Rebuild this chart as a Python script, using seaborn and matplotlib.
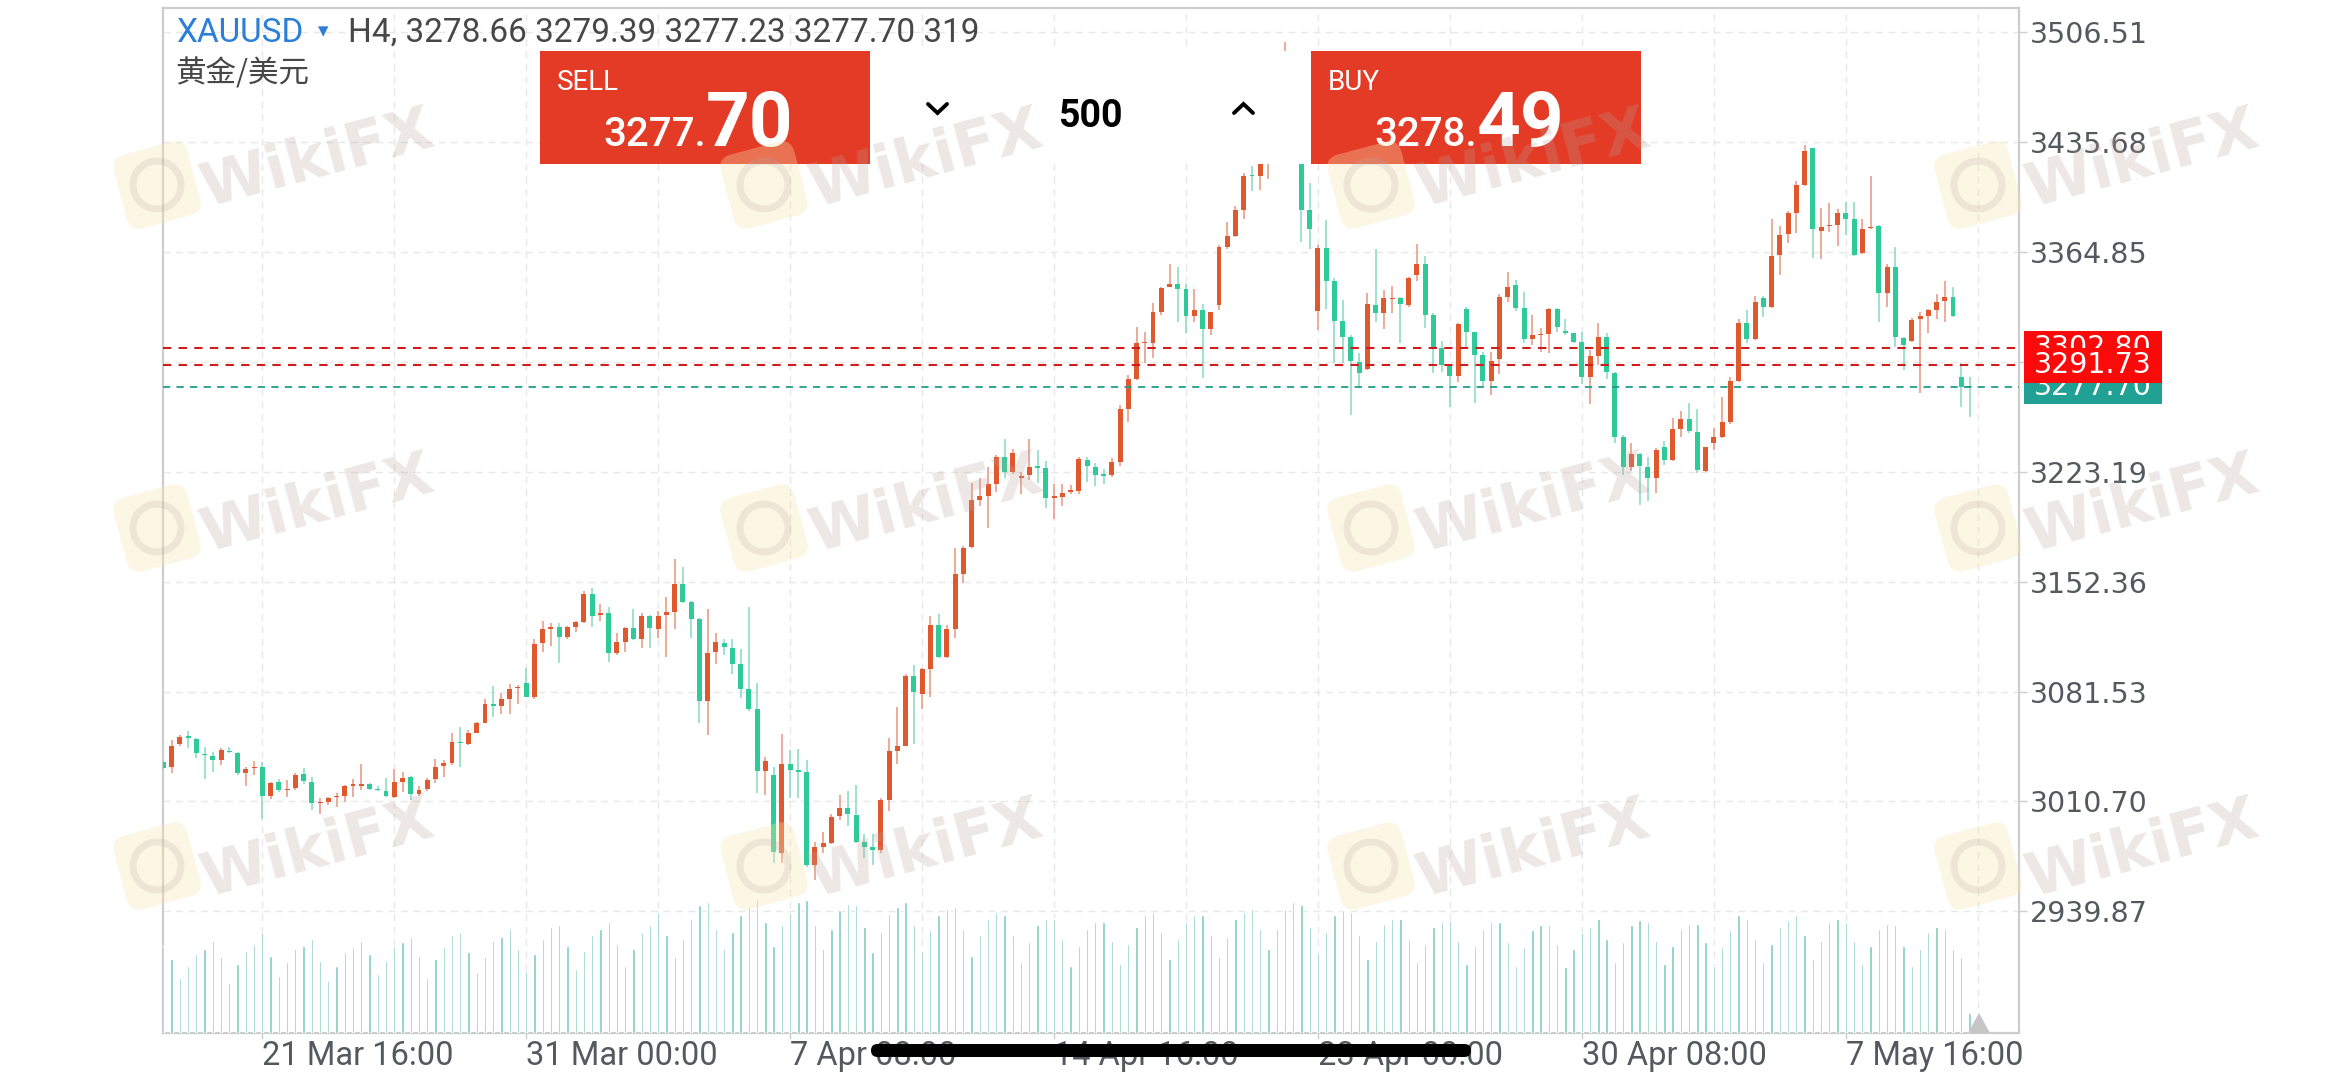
import matplotlib
matplotlib.use("Agg")
import matplotlib.pyplot as plt
import matplotlib.transforms as mtransforms
from matplotlib.patches import Rectangle, FancyBboxPatch, Polygon, Circle
from matplotlib.lines import Line2D
import numpy as np
import pandas as pd
import seaborn as sns

sns.set_theme(style="white")
plt.rcParams['font.family'] = ['Roboto', 'DejaVu Sans', 'Noto Sans CJK SC']

W, H = 2341, 1080

# ---------------- data ----------------
symbol = "XAUUSD"
symbol_cn = "黄金/美元"
timeframe = "H4"
last_ohlc = ["3278.66", "3279.39", "3277.23", "3277.70"]
last_volume = "319"
sell_price = ["3277.", "70"]
buy_price = ["3278.", "49"]
lot_size = "500"

opens = [
    3036.4, 3033.1, 3047.7, 3052.5, 3051.2, 3041.3, 3040.0, 3037.4, 3043.4, 3042.2,
    3029.3, 3032.1, 3033.1, 3014.2, 3023.3, 3018.1, 3019.2, 3028.2, 3023.0, 3009.5,
    3010.4, 3013.4, 3014.2, 3020.9, 3020.9, 3022.2, 3018.7, 3017.2, 3013.8, 3023.5,
    3026.5, 3015.3, 3018.5, 3025.4, 3033.3, 3035.7, 3049.2, 3047.7, 3055.0, 3061.5,
    3073.3, 3072.4, 3076.5, 3083.6, 3087.3, 3078.2, 3112.6, 3122.1, 3122.9, 3116.9,
    3122.9, 3126.6, 3144.2, 3130.9, 3132.4, 3106.2, 3113.5, 3122.3, 3115.4, 3130.2,
    3121.8, 3130.9, 3132.6, 3150.8, 3139.5, 3128.3, 3075.7, 3106.8, 3112.6, 3109.8,
    3099.3, 3083.2, 3070.1, 3030.6, 3027.8, 2977.7, 3034.9, 3031.2, 3029.7, 2969.7,
    2981.1, 2984.1, 3001.2, 3006.3, 3001.8, 2984.7, 2981.1, 2979.6, 3011.7, 3043.2,
    3046.2, 3091.3, 3079.9, 3095.8, 3124.3, 3103.9, 3121.9, 3157.3, 3174.7, 3204.7,
    3207.7, 3215.0, 3232.4, 3222.8, 3219.0, 3221.0, 3227.0, 3225.5, 3206.0, 3206.9,
    3209.9, 3210.8, 3230.9, 3226.4, 3222.0, 3221.0, 3229.6, 3263.4, 3282.7, 3305.9,
    3306.4, 3326.3, 3342.4, 3343.9, 3340.7, 3323.5, 3327.4, 3315.2, 3330.6, 3367.8,
    3375.3, 3391.8, 3414.4, 3414.0, 3428.0, 3442.0, 3471.0, 3480.0, 3440.0, 3391.8,
    3327.0, 3367.1, 3346.1, 3320.5, 3309.8, 3293.7, 3289.2, 3330.6, 3325.7, 3334.5,
    3334.9, 3330.6, 3349.9, 3356.8, 3324.2, 3303.1, 3291.5, 3284.9, 3327.8, 3313.0,
    3298.4, 3281.9, 3295.6, 3336.0, 3343.5, 3328.5, 3308.5, 3311.3, 3311.9, 3327.8,
    3313.9, 3312.4, 3307.0, 3284.0, 3297.8, 3309.8, 3286.6, 3245.4, 3226.0, 3234.4,
    3226.0, 3218.9, 3238.9, 3230.7, 3250.5, 3256.9, 3249.0, 3223.9, 3241.9, 3245.7,
    3255.4, 3281.6, 3318.8, 3308.5, 3335.3, 3329.1, 3362.8, 3376.3, 3390.1, 3407.9,
    3431.5, 3378.5, 3381.5, 3382.1, 3390.1, 3386.0, 3363.9, 3380.0, 3381.5, 3338.5,
    3355.3, 3309.1, 3307.6, 3321.3, 3323.5, 3327.4, 3333.4, 3336.0, 3284.4, 3278.7,
]
highs = [
    3037.4, 3050.3, 3053.5, 3056.3, 3051.6, 3045.6, 3042.6, 3045.0, 3046.0, 3042.8,
    3033.1, 3037.0, 3036.4, 3023.5, 3025.0, 3024.5, 3028.8, 3032.1, 3026.7, 3012.7,
    3013.8, 3015.9, 3021.3, 3025.0, 3034.9, 3022.8, 3020.7, 3025.8, 3031.4, 3029.5,
    3027.1, 3020.7, 3025.6, 3037.9, 3037.4, 3054.6, 3058.9, 3056.8, 3062.1, 3076.5,
    3085.1, 3080.4, 3086.2, 3085.8, 3096.5, 3115.2, 3127.2, 3125.5, 3125.9, 3123.8,
    3127.2, 3146.5, 3148.1, 3138.0, 3136.2, 3119.5, 3122.9, 3134.5, 3132.4, 3130.9,
    3133.7, 3142.3, 3167.0, 3162.0, 3139.9, 3128.7, 3134.5, 3119.0, 3115.6, 3115.2,
    3108.7, 3135.8, 3086.8, 3039.6, 3032.7, 3054.2, 3043.9, 3044.8, 3037.2, 2984.7,
    2990.7, 3002.7, 3014.7, 3017.7, 3021.6, 2989.8, 2989.8, 3013.2, 3051.6, 3071.8,
    3092.8, 3098.8, 3096.7, 3130.3, 3131.2, 3124.3, 3173.8, 3175.3, 3215.9, 3218.9,
    3226.4, 3233.9, 3244.4, 3237.8, 3222.8, 3244.4, 3236.9, 3230.0, 3215.0, 3215.0,
    3214.4, 3232.4, 3232.4, 3228.8, 3225.0, 3231.8, 3266.2, 3285.5, 3316.7, 3313.4,
    3332.1, 3342.4, 3357.0, 3355.3, 3344.2, 3340.7, 3331.3, 3326.3, 3369.3, 3384.3,
    3394.4, 3415.5, 3420.4, 3431.0, 3447.0, 3478.0, 3500.1, 3486.0, 3444.0, 3409.5,
    3369.3, 3385.4, 3347.8, 3333.8, 3311.3, 3299.9, 3338.2, 3366.7, 3340.3, 3342.9,
    3336.0, 3348.9, 3369.7, 3362.2, 3325.7, 3307.6, 3291.9, 3318.8, 3329.5, 3313.4,
    3300.6, 3300.6, 3337.7, 3352.1, 3346.7, 3339.2, 3324.2, 3315.6, 3328.5, 3328.5,
    3321.4, 3312.8, 3313.4, 3301.6, 3318.8, 3312.4, 3287.7, 3246.8, 3241.9, 3235.0,
    3232.5, 3238.3, 3243.2, 3257.6, 3262.5, 3267.7, 3263.4, 3239.3, 3251.1, 3271.5,
    3284.0, 3321.3, 3327.4, 3336.4, 3336.4, 3385.8, 3381.5, 3391.4, 3410.7, 3433.7,
    3432.0, 3392.9, 3396.5, 3392.2, 3397.2, 3397.2, 3385.8, 3413.7, 3382.1, 3357.0,
    3368.2, 3310.2, 3322.0, 3326.3, 3327.8, 3337.7, 3346.3, 3342.4, 3293.0, 3284.4,
]
lows = [
    3031.0, 3028.8, 3046.5, 3045.0, 3038.5, 3025.2, 3029.5, 3034.2, 3041.7, 3027.8,
    3020.9, 3027.8, 2999.2, 3012.1, 3017.0, 3013.4, 3018.1, 3021.9, 3005.2, 3002.6,
    3008.4, 3007.4, 3010.6, 3013.4, 3018.1, 3018.1, 3017.7, 3013.8, 3012.7, 3017.0,
    3011.7, 3014.4, 3017.7, 3022.8, 3026.3, 3034.2, 3032.7, 3047.1, 3054.6, 3061.0,
    3065.4, 3067.1, 3067.1, 3073.5, 3077.8, 3076.5, 3107.2, 3110.9, 3099.7, 3115.2,
    3120.1, 3125.9, 3123.4, 3127.2, 3100.8, 3105.1, 3107.2, 3114.8, 3109.4, 3109.4,
    3116.3, 3104.0, 3121.6, 3138.4, 3115.8, 3061.5, 3053.5, 3099.3, 3105.1, 3092.8,
    3077.6, 3069.2, 3015.9, 3014.9, 2970.8, 2971.3, 3012.7, 3013.2, 2968.2, 2959.8,
    2977.2, 2983.2, 2998.8, 2995.2, 2983.8, 2974.2, 2969.7, 2977.2, 3004.8, 3034.8,
    3046.2, 3047.7, 3070.3, 3077.8, 3103.3, 3103.3, 3115.9, 3151.3, 3173.8, 3200.8,
    3186.7, 3209.9, 3218.9, 3221.9, 3209.0, 3218.0, 3215.9, 3199.9, 3192.7, 3200.8,
    3209.0, 3209.0, 3216.8, 3213.8, 3215.0, 3220.0, 3227.0, 3255.4, 3282.3, 3293.0,
    3296.3, 3324.2, 3342.4, 3319.9, 3312.4, 3319.9, 3283.4, 3311.3, 3327.4, 3366.5,
    3374.7, 3385.8, 3404.3, 3404.7, 3411.6, 3436.0, 3458.0, 3432.0, 3371.4, 3366.5,
    3314.5, 3328.1, 3293.0, 3293.0, 3259.7, 3276.9, 3288.7, 3319.9, 3315.0, 3325.3,
    3305.9, 3329.1, 3346.1, 3315.6, 3286.6, 3287.7, 3264.7, 3281.2, 3303.8, 3267.7,
    3276.9, 3272.6, 3286.2, 3332.8, 3327.0, 3305.9, 3304.9, 3300.6, 3299.5, 3313.4,
    3311.3, 3305.9, 3279.7, 3266.8, 3291.9, 3282.7, 3241.5, 3221.1, 3223.9, 3201.7,
    3204.5, 3209.3, 3227.5, 3230.3, 3245.8, 3247.9, 3222.6, 3223.2, 3237.2, 3244.7,
    3253.9, 3281.2, 3305.9, 3308.0, 3322.6, 3328.4, 3349.9, 3370.8, 3377.2, 3407.3,
    3360.7, 3360.0, 3377.8, 3368.6, 3375.7, 3362.0, 3363.4, 3379.3, 3319.8, 3329.5,
    3303.7, 3288.7, 3307.0, 3274.1, 3312.3, 3321.3, 3319.8, 3323.1, 3265.1, 3258.6,
]
closes = [
    3032.1, 3046.5, 3052.5, 3051.8, 3041.7, 3040.7, 3037.4, 3043.9, 3042.4, 3029.3,
    3031.8, 3033.1, 3014.2, 3022.4, 3018.1, 3018.9, 3028.0, 3024.1, 3009.5, 3010.4,
    3012.9, 3014.2, 3020.5, 3021.8, 3022.2, 3018.9, 3017.9, 3014.2, 3023.0, 3025.8,
    3015.3, 3018.1, 3024.8, 3032.7, 3035.7, 3049.2, 3048.4, 3055.0, 3061.5, 3073.5,
    3072.4, 3076.7, 3083.2, 3084.5, 3078.2, 3112.2, 3121.6, 3123.1, 3116.9, 3122.9,
    3126.6, 3144.2, 3130.2, 3132.4, 3106.2, 3113.5, 3122.3, 3115.4, 3130.2, 3122.3,
    3130.2, 3133.0, 3150.8, 3139.5, 3128.3, 3075.7, 3106.6, 3113.3, 3110.0, 3099.3,
    3083.2, 3070.1, 3030.6, 3037.0, 2978.4, 3034.9, 3031.0, 3030.0, 2969.7, 2981.1,
    2984.1, 3000.6, 3006.3, 3002.7, 2984.7, 2981.1, 2979.6, 3011.7, 3043.2, 3046.2,
    3091.3, 3081.4, 3095.8, 3124.3, 3103.9, 3121.9, 3157.3, 3173.8, 3204.7, 3207.7,
    3215.0, 3232.4, 3222.8, 3235.4, 3220.4, 3226.4, 3225.8, 3206.0, 3207.5, 3209.6,
    3211.4, 3231.5, 3227.0, 3221.0, 3220.5, 3229.6, 3263.4, 3282.7, 3306.4, 3306.8,
    3326.3, 3341.4, 3343.9, 3340.9, 3323.5, 3327.4, 3315.2, 3325.9, 3368.2, 3375.3,
    3391.8, 3414.0, 3413.6, 3428.0, 3442.0, 3471.0, 3480.0, 3440.0, 3391.8, 3379.6,
    3367.1, 3346.1, 3320.5, 3309.8, 3294.8, 3287.0, 3331.3, 3325.7, 3334.9, 3335.4,
    3331.3, 3347.8, 3356.8, 3324.2, 3303.1, 3291.9, 3284.9, 3318.2, 3313.0, 3298.4,
    3281.9, 3294.8, 3335.6, 3342.4, 3328.5, 3308.5, 3311.3, 3311.9, 3327.8, 3316.2,
    3312.8, 3307.0, 3284.0, 3297.8, 3309.8, 3287.7, 3245.8, 3226.0, 3234.4, 3226.9,
    3218.9, 3237.2, 3230.7, 3250.5, 3256.9, 3249.6, 3224.3, 3238.9, 3245.4, 3255.4,
    3281.6, 3318.8, 3308.5, 3332.7, 3329.1, 3362.2, 3375.7, 3390.1, 3407.9, 3430.0,
    3379.3, 3381.1, 3382.1, 3390.1, 3386.0, 3362.8, 3379.3, 3381.1, 3338.5, 3355.3,
    3309.8, 3304.8, 3320.9, 3323.5, 3327.4, 3332.7, 3336.0, 3323.5, 3278.0, 3277.7,
]
# tick volume (thousands)
volumes = [
    52, 44, 33, 40, 47, 50, 55, 45, 30, 41, 49, 53, 60, 46, 34, 42, 50, 52,
    56, 43, 31, 40, 48, 51, 55, 47, 35, 43, 52, 54, 57, 46, 33, 44, 51, 58,
    60, 48, 36, 45, 55, 57, 62, 50, 37, 47, 56, 63, 64, 52, 38, 49, 58, 62,
    66, 53, 40, 50, 60, 64, 72, 58, 45, 56, 68, 76, 78, 62, 50, 60, 70, 75,
    80, 66, 52, 64, 72, 78, 79, 64, 50, 62, 73, 77, 76, 63, 48, 60, 71, 75,
    78, 64, 49, 61, 70, 74, 75, 62, 46, 58, 68, 72, 70, 58, 42, 54, 64, 68,
    68, 56, 40, 52, 62, 66, 66, 55, 41, 53, 63, 70, 72, 60, 44, 56, 66, 70,
    70, 58, 45, 57, 68, 72, 74, 62, 50, 62, 74, 78, 76, 63, 48, 60, 70, 73,
    72, 58, 44, 55, 65, 68, 68, 56, 42, 53, 63, 66, 67, 55, 41, 52, 62, 66,
    66, 54, 40, 51, 61, 64, 64, 53, 39, 50, 60, 63, 68, 56, 42, 54, 64, 67,
    66, 55, 41, 52, 62, 65, 65, 54, 40, 51, 61, 70, 68, 56, 42, 53, 63, 67,
    70, 58, 44, 55, 66, 68, 66, 55, 41, 52, 62, 65, 64, 52, 40, 50, 60, 63,
    62, 50, 45, 12,
]

price_ticks = [2939.87, 3010.70, 3081.53, 3152.36, 3223.19, 3294.02, 3364.85, 3435.68, 3506.51]
time_tick_pos = [12, 44, 76, 108, 140, 172, 204]
time_tick_labels = ["21 Mar 16:00", "31 Mar 00:00", "7 Apr 08:00", "14 Apr 16:00",
                    "23 Apr 00:00", "30 Apr 08:00", "7 May 16:00"]
minor_grid_pos = [28, 60, 92, 124, 156, 188, 220]

order_levels = [3302.80, 3291.73]
order_labels = ["3302.80", "3291.73"]
bid_level = 3277.70
bid_label = "3277.70"

# ---------------- frame ----------------
df = pd.DataFrame({"open": opens, "high": highs, "low": lows, "close": closes, "vol": volumes})
df["idx"] = np.arange(len(df))
df["up"] = df["close"] >= df["open"]

UP, DOWN = "#e0582d", "#2ecb98"
UP_WICK, DOWN_WICK = "#e79580", "#86d9bf"
GRID = "#e8e8e8"
FRAME = "#cdcdcd"
LABEL = "#55595f"

fig = plt.figure(figsize=(W / 100, H / 100), dpi=100)
fig.patch.set_facecolor("white")
px_t = mtransforms.Affine2D().scale(1 / W, 1 / H) + fig.transFigure

ax = fig.add_axes([163 / W, 1 - 1033 / H, (2019 - 163) / W, (1033 - 7.5) / H])
axv = ax.twinx()

# volume histogram in the lower band
sns.barplot(data=df, x="idx", y="vol", native_scale=True, color="#7fcbbe", saturation=1,
            width=0.28, errorbar=None, ax=axv)
axv.set_ylim(0, 610)
axv.set_yticks([])
axv.set_ylabel("")
axv.set_xlabel("")
for s in axv.spines.values():
    s.set_visible(False)

# candles
body_lo = np.minimum(df["open"], df["close"])
body_h = np.maximum((df["close"] - df["open"]).abs(), 0.9)
ax.vlines(df["idx"], df["low"], df["high"],
          colors=np.where(df["up"], UP_WICK, DOWN_WICK), lw=1.1, zorder=3)
ax.bar(df["idx"], body_h, bottom=body_lo, width=0.6,
       color=np.where(df["up"], UP, DOWN), lw=0, zorder=4)

# order / bid lines
for lv in order_levels:
    ax.axhline(lv, color="#cf1c1c", lw=1.5, ls=(0, (4, 3.5)), zorder=6)
ax.axhline(bid_level, color="#1f9e8f", lw=1.3, ls=(0, (4, 3.5)), zorder=6)

ax.set_xlim(-0.04, 225.0)
ax.set_ylim(2861.5, 3522.3)

ax.yaxis.tick_right()
ax.set_yticks(price_ticks)
ax.set_yticklabels([f"{v:.2f}" for v in price_ticks])
ax.set_xticks(time_tick_pos)
ax.set_xticklabels(time_tick_labels, ha="left")
ax.set_xticks(minor_grid_pos, minor=True)
ax.set_xlabel("")
ax.set_ylabel("")

ax.tick_params(axis="y", which="major", right=True, left=False, length=6, width=1,
               color=FRAME, pad=1.5, labelsize=20.5, labelcolor=LABEL)
ax.tick_params(axis="x", which="major", bottom=True, length=4.5, width=1,
               color=FRAME, pad=0.5, labelsize=23.5, labelcolor=LABEL)
ax.tick_params(axis="x", which="minor", bottom=False, length=0)
for lbl in ax.get_yticklabels():
    lbl.set_fontfamily("DejaVu Sans")

ax.grid(True, axis="y", which="major", color=GRID, ls=(0, (5, 4)), lw=1)
ax.grid(True, axis="x", which="both", color=GRID, ls=(0, (5, 4)), lw=1)
for s in ax.spines.values():
    s.set_visible(True)
    s.set_color(FRAME)
    s.set_linewidth(1.6)

# price tags on the right axis
ytr = ax.get_yaxis_transform()
tag_x0 = (2024 - 163) / (2019 - 163)
tag_w = 138 / (2019 - 163)


def price_tag(level, text, color, z):
    ax.add_patch(Rectangle((tag_x0, level - 11.2), tag_w, 22.4, transform=ytr, fc=color,
                           ec="none", clip_on=False, zorder=z))
    ax.text(tag_x0 + tag_w / 2, level, text, transform=ytr, ha="center", va="center",
            color="white", fontsize=20.5, family="DejaVu Sans", clip_on=False, zorder=z + 0.1)


price_tag(bid_level, bid_label, "#21a194", 20)
price_tag(order_levels[0], order_labels[0], "#fb0a0a", 21)
price_tag(order_levels[1], order_labels[1], "#fb0a0a", 22)

# ---------------- header ----------------
fig.text(176 / W, 1 - 42 / H, symbol, color="#2b7fd8", fontsize=24, va="baseline", zorder=30)
fig.text(318 / W, 1 - 37 / H, "▾", color="#2b7fd8", fontsize=15, family="DejaVu Sans",
         va="baseline", zorder=30)
fig.text(348 / W, 1 - 42 / H, f"{timeframe}, {' '.join(last_ohlc)} {last_volume}",
         color="#474747", fontsize=24, va="baseline", zorder=30)
fig.text(175 / W, 1 - 83 / H, symbol_cn, color="#474747", fontsize=22,
         family=["Noto Sans CJK SC", "DejaVu Sans"], va="baseline", zorder=30)

# trade panel (covers the chart top)
fig.add_artist(Rectangle((540, H - 164), 1100, 113, transform=px_t, fc="white", ec="none", zorder=10))
for x0, lab, price in [(540, "SELL", sell_price), (1311, "BUY", buy_price)]:
    fig.add_artist(Rectangle((x0, H - 164), 330, 113, transform=px_t, fc="#e33b26",
                             ec="none", zorder=11))
    fig.text((x0 + 17) / W, 1 - 90 / H, lab, color="white", fontsize=20, va="baseline", zorder=12)
    split = x0 + 166
    fig.text(split / W, 1 - 146 / H, price[0], color="white", fontsize=29, ha="right",
             va="baseline", fontweight="medium", zorder=12)
    fig.text(split / W, 1 - 146 / H, price[1], color="white", fontsize=55, ha="left",
             va="baseline", fontweight="bold", zorder=12)

fig.text(1090 / W, 1 - 127 / H, lot_size, color="black", fontsize=27, ha="center",
         va="baseline", fontweight="bold", zorder=12)
fig.add_artist(Line2D([928, 937.5, 947], [H - 104, H - 113, H - 104], transform=px_t,
                      color="black", lw=2.8, solid_capstyle="round", solid_joinstyle="miter", zorder=12))
fig.add_artist(Line2D([1234, 1243.5, 1253], [H - 113, H - 104, H - 113], transform=px_t,
                      color="black", lw=2.8, solid_capstyle="round", solid_joinstyle="miter", zorder=12))

# scroll handle + corner marker
fig.add_artist(FancyBboxPatch((871, H - 1057), 600, 13, boxstyle="round,pad=0,rounding_size=6.5",
                              transform=px_t, fc="black", ec="none", zorder=40))
fig.add_artist(Polygon([(1968, H - 1033), (1979, H - 1013), (1990, H - 1033)], closed=True,
                       transform=px_t, fc="#c6c6c6", ec="none", zorder=40))

# ---------------- WikiFX watermarks ----------------
for cy_txt, cy_logo in [(160, 185), (505, 528), (850, 866)]:
    for cx_txt, cx_logo in [(317, 157), (926, 764), (1533, 1371), (2142, 1978)]:
        rot = mtransforms.Affine2D().rotate_deg_around(cx_logo, H - cy_logo, 15) + px_t
        fig.add_artist(FancyBboxPatch((cx_logo - 38, H - cy_logo - 38), 76, 76,
                                      boxstyle="round,pad=0,rounding_size=14", transform=rot,
                                      fc="#f6e4ad", ec="none", alpha=0.33, zorder=50))
        fig.add_artist(Circle((cx_logo, H - cy_logo), 24, transform=rot, fc="none",
                              ec="#b8aca6", lw=5, alpha=0.22, zorder=51))
        fig.text(cx_txt / W, 1 - cy_txt / H, "WikiFX", rotation=15, rotation_mode="anchor",
                 ha="center", va="center", fontsize=44, fontweight="bold", family="DejaVu Sans",
                 color="#b9a39c", alpha=0.26, zorder=52)

fig.savefig("out.png", dpi=100, facecolor="white")
